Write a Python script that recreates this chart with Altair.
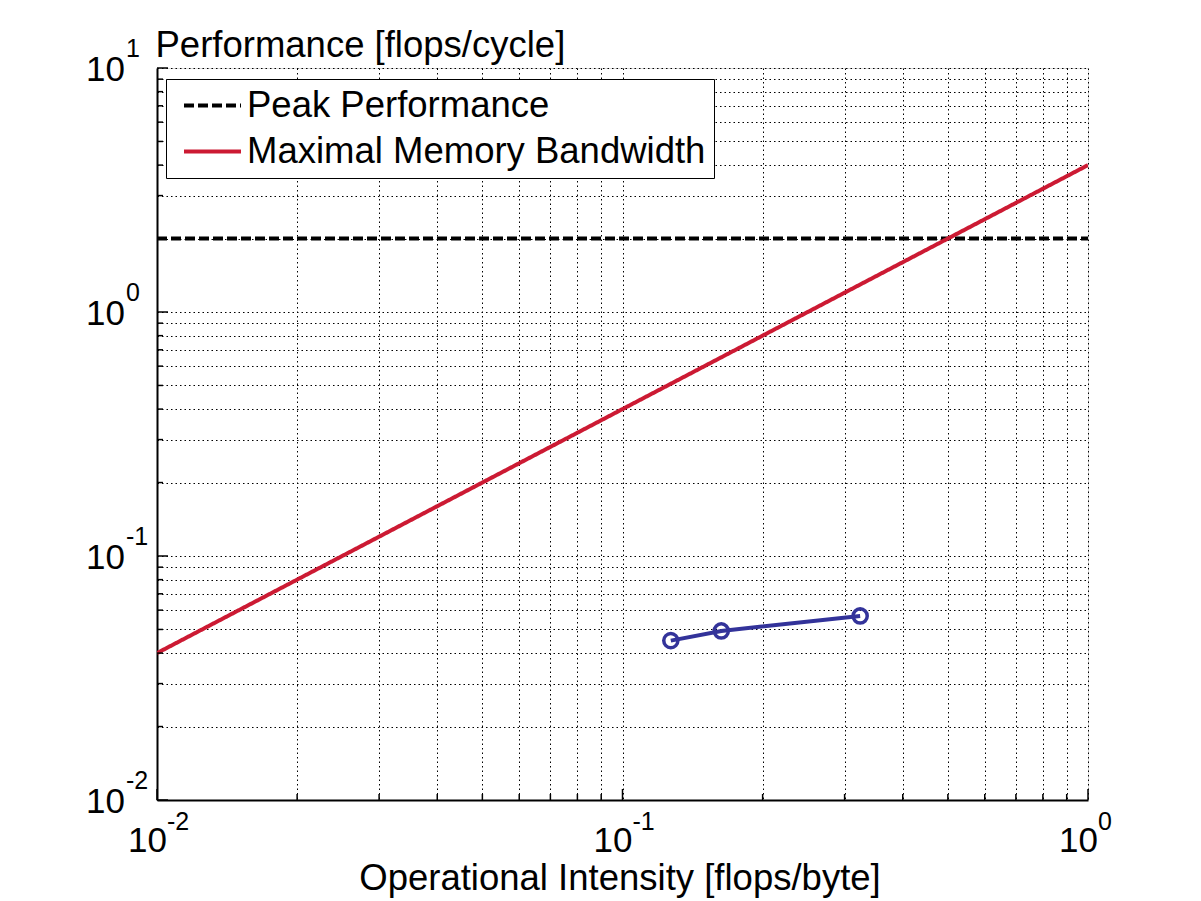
import altair as alt
import pandas as pd

# ---- data ----
x_domain = [0.01, 1.0]
y_domain = [0.01, 10.0]

peak_x = [0.01, 1.0]
peak_y = [2.0, 2.0]

bw_x = [0.01, 1.0]
bw_y = [0.04, 4.0]

meas_x = [0.127, 0.163, 0.324]
meas_y = [0.0450, 0.0493, 0.0568]

series_names = ["Peak Performance", "Maximal Memory Bandwidth"]

x_major = [0.01, 0.1, 1.0]
y_major = [0.01, 0.1, 1.0, 10.0]
x_exp = ["-2", "-1", "0"]
y_exp = ["-2", "-1", "0", "1"]
minor_mult = [2, 3, 4, 5, 6, 7, 8, 9]
x_minor = [m * d for d in [0.01, 0.1] for m in minor_mult]
y_minor = [m * d for d in [0.01, 0.1, 1.0] for m in minor_mult]

W, H = 931, 732
FONT = "Liberation Sans"
RED = "#cc1a33"
BLUE = "#33339a"

lines_df = pd.DataFrame({
    "x": peak_x + bw_x,
    "y": peak_y + bw_y,
    "series": [series_names[0]] * len(peak_x) + [series_names[1]] * len(bw_x),
})
meas_df = pd.DataFrame({"x": meas_x, "y": meas_y})

grid_x = x_major + x_minor
grid_y = y_major + y_minor

xs = alt.Scale(type="log", domain=x_domain, nice=False)
ys = alt.Scale(type="log", domain=y_domain, nice=False)

xaxis = alt.Axis(values=grid_x, grid=True, gridDash=[1.5, 3], gridColor="black",
                 gridOpacity=1, gridWidth=1, labels=False, ticks=False,
                 domain=True, domainColor="black", domainWidth=2,
                 title="Operational Intensity [flops/byte]", titleFont=FONT,
                 titleFontSize=36.5, titleFontWeight="normal", titleColor="black",
                 titleBaseline="alphabetic", titleX=W / 2 - 3, titleY=89,
                 titleAlign="center")
yaxis = alt.Axis(values=grid_y, grid=True, gridDash=[1.5, 3], gridColor="black",
                 gridOpacity=1, gridWidth=1, labels=False, ticks=False,
                 domain=True, domainColor="black", domainWidth=2,
                 title="Performance [flops/cycle]", titleFont=FONT,
                 titleFontSize=36.5, titleFontWeight="normal", titleColor="black",
                 titleAngle=0, titleAlign="left", titleBaseline="alphabetic",
                 titleX=-2, titleY=-12)

base_lines = alt.Chart(lines_df).mark_line(strokeWidth=4, clip=True).encode(
    x=alt.X("x:Q", scale=xs, axis=xaxis),
    y=alt.Y("y:Q", scale=ys, axis=yaxis),
    color=alt.Color("series:N",
                    scale=alt.Scale(domain=series_names, range=["black", RED]),
                    legend=alt.Legend(title=None, orient="none", legendX=9, legendY=11,
                                      fillColor="white", strokeColor="black",
                                      padding=8, labelFont=FONT, labelFontSize=36.5,
                                      labelColor="black", symbolType="stroke",
                                      symbolStrokeWidth=4, symbolSize=3249,
                                      clipHeight=37, symbolOffset=8,
                                      labelOffset=4, rowPadding=9,
                                      labelLimit=1000)),
    strokeDash=alt.StrokeDash("series:N",
                              scale=alt.Scale(domain=series_names, range=[[10, 4], [1, 0]]),
                              legend=None),
    detail="series:N",
)

meas_line = alt.Chart(meas_df).mark_line(color=BLUE, strokeWidth=4).encode(
    x=alt.X("x:Q", scale=xs), y=alt.Y("y:Q", scale=ys))
meas_pts = alt.Chart(meas_df).mark_point(shape="circle", color=BLUE, size=200,
                                         strokeWidth=3.5, filled=False, opacity=1).encode(
    x=alt.X("x:Q", scale=xs), y=alt.Y("y:Q", scale=ys))

# inward tick marks
xmaj_df = pd.DataFrame({"v": x_major, "e": x_exp})
ymaj_df = pd.DataFrame({"v": y_major, "e": y_exp})
xmin_df = pd.DataFrame({"v": x_minor})
ymin_df = pd.DataFrame({"v": y_minor})

xt_major = alt.Chart(xmaj_df).mark_rule(color="black", strokeWidth=1.5).encode(
    x=alt.X("v:Q", scale=xs), y=alt.value(H), y2=alt.value(H - 11))
xt_minor = alt.Chart(xmin_df).mark_rule(color="black", strokeWidth=1.5).encode(
    x=alt.X("v:Q", scale=xs), y=alt.value(H), y2=alt.value(H - 6))
yt_major = alt.Chart(ymaj_df).mark_rule(color="black", strokeWidth=1.5).encode(
    y=alt.Y("v:Q", scale=ys), x=alt.value(0), x2=alt.value(11))
yt_minor = alt.Chart(ymin_df).mark_rule(color="black", strokeWidth=1.5).encode(
    y=alt.Y("v:Q", scale=ys), x=alt.value(0), x2=alt.value(6))

# tick labels 10^n
x_base = alt.Chart(xmaj_df).mark_text(font=FONT, fontSize=35, align="right",
                                      baseline="alphabetic", dx=10, color="black").encode(
    x=alt.X("v:Q", scale=xs), y=alt.value(H + 52), text=alt.value("10"))
x_sup = alt.Chart(xmaj_df).mark_text(font=FONT, fontSize=25, align="left",
                                     baseline="alphabetic", dx=10, color="black").encode(
    x=alt.X("v:Q", scale=xs), y=alt.value(H + 30), text="e:N")
y_base = alt.Chart(ymaj_df).mark_text(font=FONT, fontSize=35, align="right",
                                      baseline="alphabetic", dy=13, color="black").encode(
    y=alt.Y("v:Q", scale=ys), x=alt.value(-32), text=alt.value("10"))
y_sup = alt.Chart(ymaj_df).mark_text(font=FONT, fontSize=25, align="left",
                                     baseline="alphabetic", dy=-11, color="black").encode(
    y=alt.Y("v:Q", scale=ys), x=alt.value(-31), text="e:N")

chart = alt.layer(
    base_lines, xt_major, xt_minor, yt_major, yt_minor,
    meas_line, meas_pts, x_base, x_sup, y_base, y_sup,
).resolve_scale(color="independent", strokeDash="independent").properties(
    width=W, height=H,
    autosize=alt.AutoSizeParams(type="none"),
    padding={"left": 149, "top": 60, "right": 105, "bottom": 100},
).configure_view(stroke=None).configure(background="white")

chart.save("out.html", embed_options={"renderer": "svg", "actions": False})
